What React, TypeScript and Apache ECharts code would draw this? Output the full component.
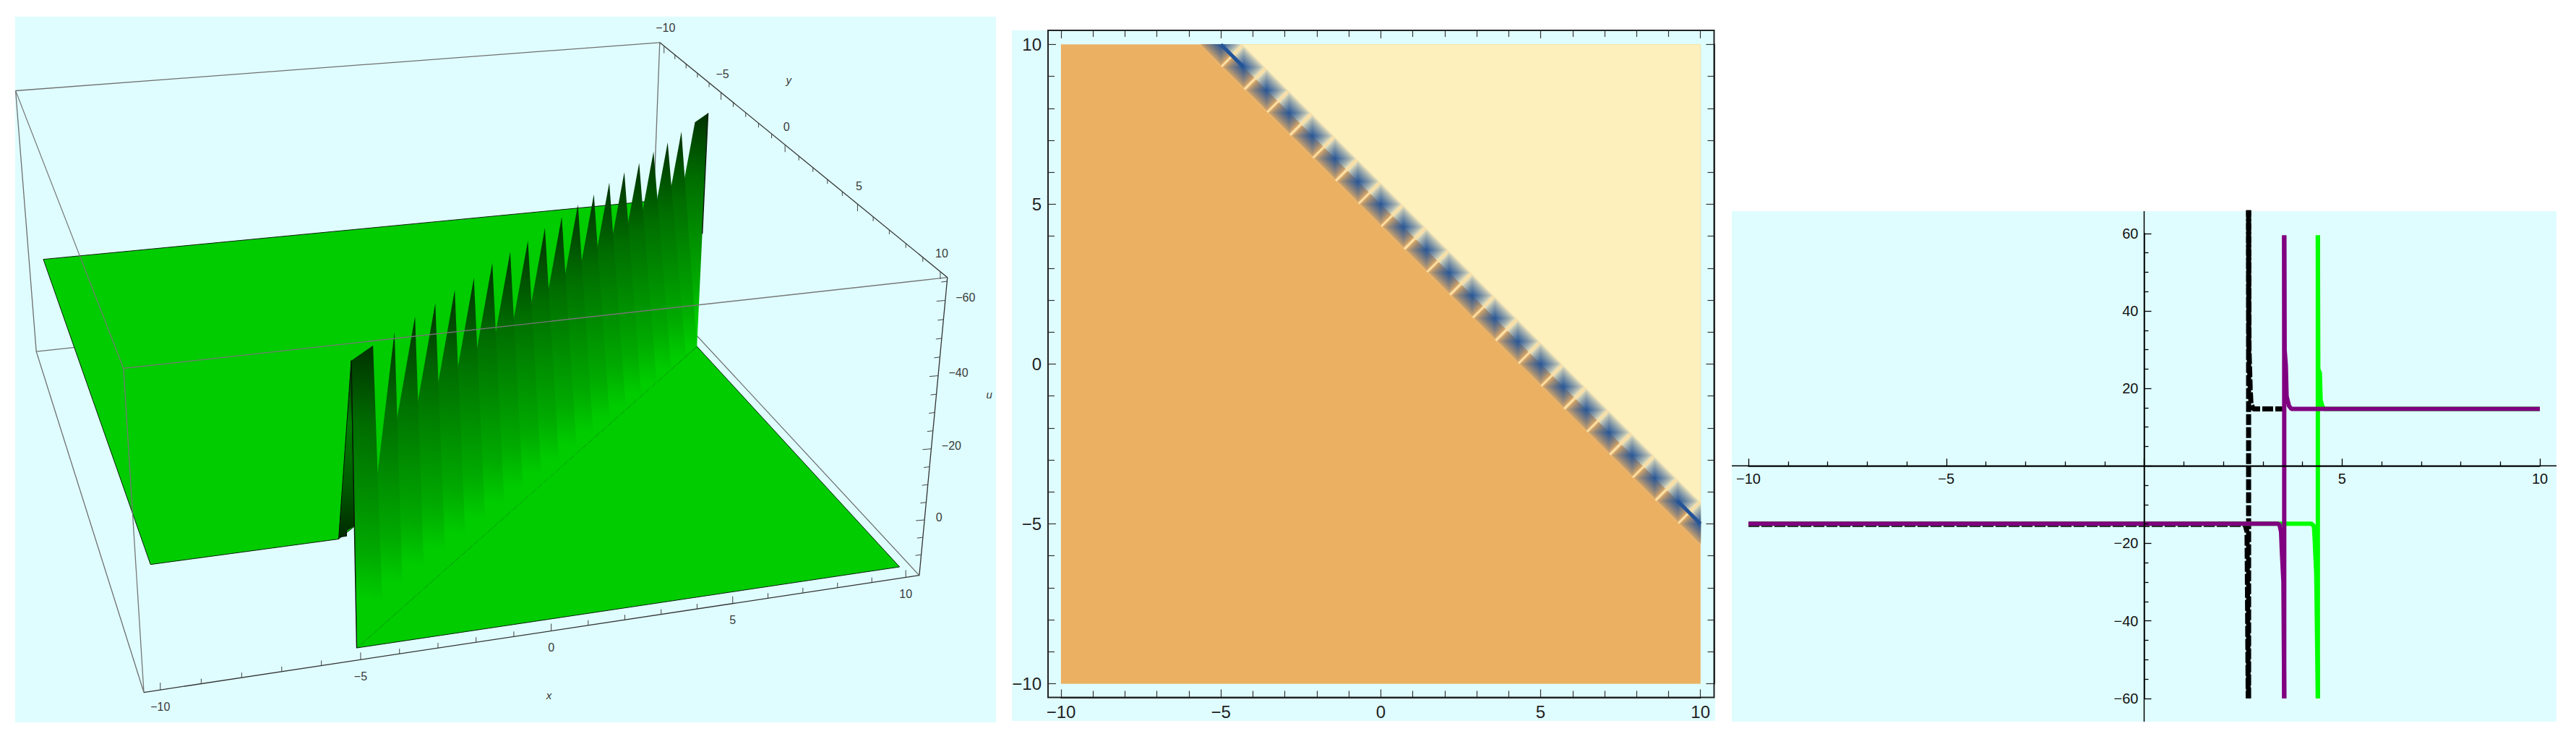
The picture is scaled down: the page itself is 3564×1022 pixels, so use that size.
import React, { useEffect, useRef } from "react";
import * as echarts from "echarts";

// ---------- data: 3D surface (x, y, u) ----------
const ridgeX = [-5, -4.29, -3.57, -2.86, -2.14, -1.43, -0.71, 0, 0.71, 1.43, 2.14, 2.86, 3.57, 4.29, 5, 5.71, 6.43, 7.14, 7.86, 8.57, 9.29, 10];
const ridgeTipU = [-60, -60, -59.7, -60, -59.8, -59.7, -59.4, -60, -59.6, -59.3, -59.5, -59.4, -59.7, -59.4, -59.7, -59.7, -59.4, -59.8, -59.6, -60, -60, -60];
const upperPlateU = -15;
const lowerPlateU = 15;
const upperPlateBreakX = -5.4;
const tickX3D = [-10, -9, -8, -7, -6, -5, -4, -3, -2, -1, 0, 1, 2, 3, 4, 5, 6, 7, 8, 9, 10];
const tickU3D = [-65, -60, -55, -50, -45, -40, -35, -30, -25, -20, -15, -10, -5, 0, 5, 10];
const boxX = [-10.4, 10.4];
const boxY = [-10.4, 10.4];
const boxU = [-66, 16];

// ---------- data: density plot ----------
const cellCentersX = ridgeX;
const axisTicks2D = [-10, 10];

// ---------- data: line plot ----------
const blackBranchLow = [[-10, -15.1], [2.55, -15.1], [2.6, -17], [2.61, -30], [2.63, -60]];
const blackBranchHigh = [[2.64, 66], [2.65, 30], [2.68, 20], [2.7, 16], [2.76, 14.7], [3.6, 14.7]];
const blackPole = [[2.64, -60], [2.64, 66]];
const purpleBranchLow = [[-10, -14.9], [3.38, -14.9], [3.42, -15.2], [3.46, -17], [3.48, -22], [3.52, -30], [3.54, -60]];
const purpleBranchHigh = [[3.54, 59.5], [3.55, 30], [3.58, 26], [3.6, 18], [3.66, 15.5], [3.72, 14.7], [10, 14.7]];
const purplePole = [[3.54, -60], [3.54, 59.5]];
const greenBranchLow = [[-10, -14.9], [4.22, -14.9], [4.29, -15.5], [4.31, -19], [4.35, -28], [4.39, -60]];
const greenBranchHigh = [[4.39, 59.5], [4.4, 25], [4.44, 24], [4.46, 17], [4.5, 15.5], [4.55, 14.7], [10, 14.7]];
const greenPole = [[4.39, -60], [4.39, 59.5]];

// ---------- camera calibration of the 3D panel (world -> page px) ----------
const calibWorld = [
  [-10.4, 10.4, 16], [10.4, 10.4, 16], [10.4, 10.4, -66], [-10.4, 10.4, -66],
  [-10.4, -10.4, -66], [10.4, -10.4, -66], [-10.4, -10.4, 16], [10.4, -10.4, 16],
  [-10, 10.4, 16], [-5, 10.4, 16], [0, 10.4, 16], [5, 10.4, 16], [10, 10.4, 16],
  [10.4, 10.4, -60], [10.4, 10.4, -40], [10.4, 10.4, -20], [10.4, 10.4, 0],
  [10.4, -5, -66], [10.4, 0, -66], [10.4, 5, -66],
  [-10, -10, -15], [-10, 10, -15],
  [10, 10, 15], [-5, 10, 15], [10, -5, 15],
  [-5, 10, -60], [10, -5, -60], [-4.29, 9.29, -60], [1.43, 3.57, -60], [8.57, -3.57, -60],
  [10, -5, -60], [8.57, -3.57, -60], [1.43, 3.57, -60],
];
const calibScreen = [
  [196, 956], [1273, 796], [1309, 396], [171, 528],
  [22, 141], [910, 65], [47, 485], [904, 400],
  [220, 952], [493, 912], [757, 872], [1009, 834], [1253, 799],
  [1307, 428], [1297, 528], [1289, 626], [1280, 721],
  [995, 137], [1083, 210], [1183, 288],
  [58, 363], [207, 784],
  [1244, 781], [507, 889], [969, 482],
  [481.6, 492], [978, 144], [512, 470], [748.6, 307], [939.5, 171.5],
  [978, 144], [939.5, 171.5], [748.6, 307],
];

function solveCamera(): number[] {
  const n = 11;
  const ata = Array.from({ length: n }, () => new Array(n + 1).fill(0));
  const add = (row: number[], rhs: number) => {
    for (let i = 0; i < n; i++) {
      for (let j = 0; j < n; j++) ata[i][j] += row[i] * row[j];
      ata[i][n] += row[i] * rhs;
    }
  };
  calibWorld.forEach((w, k) => {
    const X = w[0] / 10, Y = w[1] / 10, Z = w[2] / 40;
    const a = calibScreen[k][0] / 1000, b = calibScreen[k][1] / 1000;
    add([X, Y, Z, 1, 0, 0, 0, 0, -a * X, -a * Y, -a * Z], a);
    add([0, 0, 0, 0, X, Y, Z, 1, -b * X, -b * Y, -b * Z], b);
  });
  for (let c = 0; c < n; c++) {
    let piv = c;
    for (let r = c + 1; r < n; r++) if (Math.abs(ata[r][c]) > Math.abs(ata[piv][c])) piv = r;
    [ata[c], ata[piv]] = [ata[piv], ata[c]];
    for (let r = 0; r < n; r++) {
      if (r === c) continue;
      const f = ata[r][c] / ata[c][c];
      for (let j = c; j <= n; j++) ata[r][j] -= f * ata[c][j];
    }
  }
  return ata.map((row, i) => row[n] / row[i]);
}
const cam = solveCamera();
function project(x: number, y: number, u: number): number[] {
  const X = x / 10, Y = y / 10, Z = u / 40;
  const w = cam[8] * X + cam[9] * Y + cam[10] * Z + 1;
  return [
    (1000 * (cam[0] * X + cam[1] * Y + cam[2] * Z + cam[3])) / w,
    (1000 * (cam[4] * X + cam[5] * Y + cam[6] * Z + cam[7])) / w,
  ];
}

const BG = "#dffdff";
const FONT = '"Liberation Sans", Arial, sans-serif';
const minus = (v: number) => String(v).replace("-", "\u2212");

const plateGreen = "#00cc00";
const toothStops = [
  { offset: 0, color: "#003000" },
  { offset: 0.28, color: "#006c00" },
  { offset: 0.52, color: "#008c00" },
  { offset: 0.74, color: "#00aa00" },
  { offset: 0.9, color: plateGreen },
  { offset: 1, color: plateGreen },
];
// colour follows the height on the wall, tilted so that each tooth is lighter on its left
function toothFill(tip: number[], foot: number[]) {
  const H = foot[1] - tip[1];
  return new echarts.graphic.LinearGradient(tip[0], tip[1], tip[0] - 0.16 * H, tip[1] + 0.97 * H, toothStops, true);
}

function render3D(_: any, api: any) {
  const c = (p: number[]) => api.coord(p);
  const P = (x: number, y: number, u: number) => c(project(x, y, u));
  const [x0, x1] = boxX, [y0, y1] = boxY, [uT, uB] = boxU;
  const kids: any[] = [];
  const edge = (a: number[], b: number[], stroke = "#707070", lineWidth = 1.3) => {
    const p = P(a[0], a[1], a[2]), q = P(b[0], b[1], b[2]);
    kids.push({ type: "line", shape: { x1: p[0], y1: p[1], x2: q[0], y2: q[1] }, style: { stroke, lineWidth } });
  };
  const poly = (pts: number[][], fill: any, stroke?: string, lineWidth = 1) =>
    kids.push({ type: "polygon", shape: { points: pts }, style: { fill, stroke: stroke || "none", lineWidth } });
  const label = (text: string, at: number[], dx: number, dy: number, italic = false) =>
    kids.push({
      type: "text",
      style: { text, x: at[0] + dx, y: at[1] + dy, fill: "#3a3a3a", fontSize: italic ? 15 : 16, fontFamily: FONT, fontStyle: italic ? "italic" : "normal", align: "center", verticalAlign: "middle" },
    });

  // back edges of the box
  edge([x0, y0, uT], [x0, y0, uB]);
  edge([x0, y0, uB], [x1, y0, uB]);
  edge([x1, y0, uT], [x1, y0, uB]);
  edge([x1, y0, uB], [x1, y1, uB]);
  edge([x0, y0, uB], [x0, y1, uB]);
  edge([x0, y0, uT], [x1, y0, uT]);

  // plates
  const U = upperPlateU, L = lowerPlateU, B = upperPlateBreakX;
  poly([P(-10, -10, U), P(10, -10, U), P(10, 5 - 10 - 0.4, U), P(B, 10, U), P(-10, 10, U)], plateGreen, "#0a200a");
  poly([P(-5, 10, L), P(10, 10, L), P(10, -5, L)], plateGreen, "#0a200a");

  // far block, teeth from far to near
  const n = ridgeX.length;
  const wall = (x: number, u: number) => P(x, 5 - x, u);
  const farTip = wall(ridgeX[n - 1], ridgeTipU[n - 1]);
  poly([wall(ridgeX[n - 2], ridgeTipU[n - 2]), farTip, wall(10, L), wall(ridgeX[n - 2] - 2.14, L)], toothFill(farTip, wall(10, L)));
  for (let i = n - 3; i >= 2; i--) {
    const x = ridgeX[i];
    const right = Math.min(10, x + 0.21 + ((1.6 - 0.21) * (i - 2)) / 17);
    const left = Math.max(-5, x - 2.14);
    const tip = wall(x, ridgeTipU[i]);
    poly([tip, wall(right, L), wall(left, L)], toothFill(tip, wall(x, L)));
  }
  // near side of the wall facing the upper plate
  poly(
    [P(B, 10, U), P(-5, 10, ridgeTipU[0]), P(-5, 10, -18), P(-5.2, 10, -17), P(-5.2, 10, -15.5), P(B, 10, -15.5)],
    new echarts.graphic.LinearGradient(0, 0, 0, 1, [
      { offset: 0, color: "#002800" },
      { offset: 0.35, color: "#007a00" },
      { offset: 0.7, color: "#005a00" },
      { offset: 1, color: "#002800" },
    ]),
    "#061006"
  );
  // near block
  const nearTip = wall(ridgeX[1], ridgeTipU[1]);
  poly([wall(ridgeX[0], ridgeTipU[0]), nearTip, wall(ridgeX[1] + 0.21, L), wall(ridgeX[0], L)], toothFill(nearTip, wall(ridgeX[1], L)));
  edge([-5, 10, ridgeTipU[0]], [-5, 10, L], "#0a180a", 1.4);
  edge([10, -5, ridgeTipU[n - 1]], [10, -5, -22], "#0a180a", 1.4);

  // front edges
  edge([x0, y1, uT], [x1, y1, uT], "#777777", 1.3);
  edge([x0, y0, uT], [x0, y1, uT], "#777777", 1.2);
  edge([x0, y1, uT], [x0, y1, uB], "#777777", 1.3);
  edge([x0, y1, uB], [x1, y1, uB], "#333333", 1.3);
  edge([x1, y0, uT], [x1, y1, uT], "#333333", 1.3);
  edge([x1, y1, uT], [x1, y1, uB], "#333333", 1.3);

  // ticks and labels
  tickX3D.forEach((t) => {
    const major = t % 5 === 0;
    const p = P(t, y1, uB);
    kids.push({ type: "line", shape: { x1: p[0], y1: p[1], x2: p[0], y2: p[1] - (major ? 10 : 7) }, style: { stroke: "#444", lineWidth: 1 } });
    if (major) label(minus(t), p, 0, 23);
    const q = P(x1, t, uT);
    kids.push({ type: "line", shape: { x1: q[0], y1: q[1], x2: q[0], y2: q[1] + (major ? 10 : 6) }, style: { stroke: "#444", lineWidth: 1 } });
    if (major) label(minus(t), q, 2, -25);
  });
  tickU3D.forEach((t) => {
    const major = t % 20 === 0;
    const p = P(x1, y1, t);
    kids.push({ type: "line", shape: { x1: p[0], y1: p[1], x2: p[0] - (major ? 12 : 8), y2: p[1] + 1 }, style: { stroke: "#444", lineWidth: 1 } });
    if (major) label(minus(t), p, t === 0 ? 20 : 28, -4);
  });
  label("x", P(0, y1, uB), -3, 89, true);
  label("y", P(x1, 0, uT), 5, -90, true);
  label("u", P(x1, y1, -25), 78, -50, true);
  return { type: "group", children: kids };
}

const orange = [236, 176, 98];
const cream = [254, 240, 189];
const seam = [250, 222, 165];
const blue = [36, 84, 152];
const mix = (a: number[], b: number[], t: number) =>
  `rgb(${a.map((v, i) => Math.round(v + (b[i] - v) * t)).join(",")})`;

function renderDensity(_: any, api: any) {
  const c = (p: number[]) => api.coord([Math.min(10, p[0]), Math.min(10, p[1])]);
  const kids: any[] = [];
  const R = 0.66;
  const poly = (pts: number[][], fill: string) =>
    kids.push({ type: "polygon", shape: { points: pts.map(c) }, style: { fill, stroke: fill, lineWidth: 0.3 } });
  const [a, b] = axisTicks2D;
  poly([[a, a], [b, a], [b, b], [a, b]], mix(orange, orange, 0));
  poly([[-5 - R, b], [b, b], [b, -5 - R]], mix(cream, cream, 0));
  poly([[-5 - R, b], [-5 + R, b], [b, -5 + R], [b, -5 - R]], mix(seam, seam, 0));
  const levels = 14;
  cellCentersX.forEach((cx) => {
    const cy = 5 - cx;
    for (let k = 0; k < levels; k++) {
      const t = k / levels;
      const r = R * (1 - t);
      const s = 0.1 + 0.9 * Math.pow(t, 0.8);
      const nw = [cx - r / 2, cy + r / 2], se = [cx + r / 2, cy - r / 2];
      poly([nw, [cx, cy + r], [cx + r, cy], se], mix(cream, blue, s));
      poly([se, [cx, cy - r], [cx - r, cy], nw], mix(orange, blue, s));
    }
  });
  // merged end cells
  [[0, 1], [cellCentersX.length - 2, cellCentersX.length - 1]].forEach(([i, j]) => {
    const p = c([cellCentersX[i], 5 - cellCentersX[i]]), q = c([cellCentersX[j], 5 - cellCentersX[j]]);
    kids.push({ type: "line", shape: { x1: p[0], y1: p[1], x2: q[0], y2: q[1] }, style: { stroke: mix(blue, blue, 0), lineWidth: 5 } });
  });
  return { type: "group", children: kids };
}

const lineSeries = (data: number[][], color: string, width: number, dash?: number[]) => ({
  type: "line",
  xAxisIndex: 2,
  yAxisIndex: 2,
  data,
  clip: false,
  showSymbol: false,
  silent: true,
  z: 3,
  lineStyle: { color, width, type: dash || "solid", cap: "butt", join: "bevel" },
});

const frameAxis = (extra: any) => ({
  type: "value",
  min: -10,
  max: 10,
  interval: 5,
  gridIndex: 0,
  z: 5,
  splitLine: { show: false },
  axisLine: { show: true, onZero: false, lineStyle: { color: "#222", width: 2 } },
  axisTick: { show: true, inside: true, length: 11, lineStyle: { color: "#333", width: 1.2 } },
  minorTick: { show: true, splitNumber: 5, length: 9, lineStyle: { color: "#333", width: 1.2 } },
  ...extra,
});
const frameLabel = (margin: number) => ({
  show: true,
  margin,
  fontSize: 24,
  fontFamily: FONT,
  color: "#222",
  formatter: (v: number) => minus(v),
});
const plotLabel = {
  show: true,
  margin: 8,
  fontSize: 20,
  fontFamily: FONT,
  color: "#111",
  formatter: (v: number) => (v === 0 ? "" : minus(v)),
};

export default function App() {
  const ref = useRef<HTMLDivElement>(null);
  useEffect(() => {
    const chart = echarts.init(ref.current!, undefined, { renderer: "svg" });
    const rect = (x: number, y: number, width: number, height: number) => ({
      type: "rect",
      z: -5,
      silent: true,
      shape: { x, y, width, height },
      style: { fill: BG },
    });
    chart.setOption({
      animation: false,
      backgroundColor: "#ffffff",
      graphic: {
        elements: [
          rect(21, 23, 1357, 976),
          rect(1400, 42, 973, 955),
          rect(2396, 292, 1141, 706),
          { type: "rect", z: 6, silent: true, shape: { x: 1450, y: 42, width: 921.5, height: 922.5 }, style: { fill: "none", stroke: "#222", lineWidth: 2 } },
          { type: "line", z: 6, silent: true, shape: { x1: 2396, y1: 644.3, x2: 3537, y2: 644.3 }, style: { stroke: "#000", lineWidth: 1.5 } },
          { type: "line", z: 6, silent: true, shape: { x1: 2966.5, y1: 292, x2: 2966.5, y2: 998 }, style: { stroke: "#000", lineWidth: 1.5 } },
        ],
      },
      grid: [
        { left: 1468, top: 61.5, width: 884.7, height: 883.9 },
        { left: 2419, top: 322.8, width: 1095, height: 643 },
        { left: 0, top: 0, width: 3564, height: 1022 },
      ],
      xAxis: [
        frameAxis({ position: "bottom", offset: 19, axisLabel: frameLabel(8) }),
        frameAxis({ position: "top", offset: 19.5, axisLabel: { show: false } }),
        {
          type: "value", gridIndex: 1, min: -10, max: 10, interval: 5, z: 5, position: "bottom", offset: -321.5,
          splitLine: { show: false },
          axisLine: { show: true, onZero: false, lineStyle: { color: "#000", width: 1.5 } },
          axisTick: { show: true, inside: true, length: 10, lineStyle: { color: "#000", width: 1.3 } },
          minorTick: { show: true, splitNumber: 5, length: 6, lineStyle: { color: "#000", width: 1.3 } },
          axisLabel: plotLabel,
        },
        { type: "value", gridIndex: 2, min: 0, max: 3564, show: false },
      ],
      yAxis: [
        frameAxis({ position: "left", offset: 18, axisLabel: frameLabel(9) }),
        frameAxis({ position: "right", offset: 18.8, axisLabel: { show: false } }),
        {
          type: "value", gridIndex: 1, min: -60, max: 60, interval: 20, z: 5, position: "left", offset: -547.5,
          splitLine: { show: false },
          axisLine: { show: true, onZero: false, lineStyle: { color: "#000", width: 1.5 } },
          axisTick: { show: true, inside: true, length: 10, lineStyle: { color: "#000", width: 1.3 } },
          minorTick: { show: true, splitNumber: 4, length: 6, lineStyle: { color: "#000", width: 1.3 } },
          axisLabel: plotLabel,
        },
        { type: "value", gridIndex: 2, min: 0, max: 1022, inverse: true, show: false },
      ],
      series: [
        { type: "custom", xAxisIndex: 3, yAxisIndex: 3, data: [0], renderItem: render3D, silent: true, z: 2 },
        { type: "custom", xAxisIndex: 0, yAxisIndex: 0, data: [0], renderItem: renderDensity, silent: true, z: 2 },
        lineSeries(blackPole, "#000000", 7, [15, 3]),
        lineSeries(blackBranchHigh, "#000000", 7, [15, 3]),
        lineSeries(blackBranchLow, "#000000", 7, [15, 3]),
        lineSeries(greenPole, "#00ff00", 6),
        lineSeries(greenBranchHigh, "#00ff00", 6),
        lineSeries(greenBranchLow, "#00ff00", 6),
        lineSeries(purplePole, "#800080", 6),
        lineSeries(purpleBranchHigh, "#800080", 6),
        lineSeries(purpleBranchLow, "#800080", 6),
      ],
    });
    return () => chart.dispose();
  }, []);
  return <div ref={ref} style={{ position: "fixed", left: 0, top: 0, width: 3564, height: 1022 }} />;
}
